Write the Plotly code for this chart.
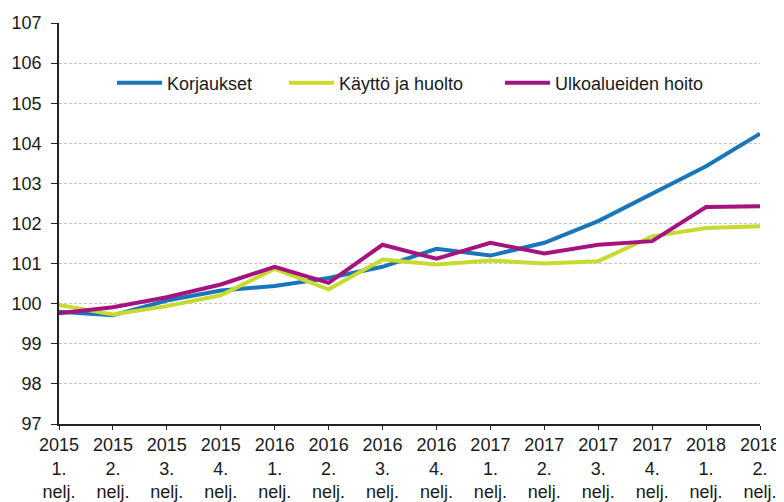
import plotly.graph_objects as go

quarters = ["2015<br>1.<br>nelj.", "2015<br>2.<br>nelj.", "2015<br>3.<br>nelj.", "2015<br>4.<br>nelj.",
            "2016<br>1.<br>nelj.", "2016<br>2.<br>nelj.", "2016<br>3.<br>nelj.", "2016<br>4.<br>nelj.",
            "2017<br>1.<br>nelj.", "2017<br>2.<br>nelj.", "2017<br>3.<br>nelj.", "2017<br>4.<br>nelj.",
            "2018<br>1.<br>nelj.", "2018<br>2.<br>nelj."]

korjaukset = [99.80, 99.71, 100.08, 100.33, 100.44, 100.64, 100.92, 101.37,
              101.20, 101.52, 102.06, 102.75, 103.43, 104.24]
kaytto = [99.97, 99.73, 99.94, 100.21, 100.87, 100.36, 101.10, 100.98,
          101.08, 101.00, 101.06, 101.68, 101.89, 101.93]
ulkoalueet = [99.76, 99.91, 100.16, 100.48, 100.92, 100.52, 101.47, 101.12,
              101.52, 101.25, 101.47, 101.56, 102.41, 102.43]

y_ticks = list(range(97, 108))

names = ["Korjaukset", "Käyttö ja huolto", "Ulkoalueiden hoito"]
colors = ["#1B75BB", "#C6DA30", "#A5137F"]
legend_ids = ["legend", "legend2", "legend3"]
legend_x = [0.0756, 0.321, 0.629]
x = list(range(len(quarters)))

font = dict(family="Liberation Sans, Arial, sans-serif", size=18, color="#1a1a1a")

fig = go.Figure()
for name, vals, col, lid in zip(names, [korjaukset, kaytto, ulkoalueet], colors, legend_ids):
    fig.add_trace(go.Scatter(x=x, y=vals, mode="lines", name=name, legend=lid,
                             line=dict(color=col, width=4), cliponaxis=False))

leg_common = dict(orientation="h", y=0.85, xanchor="left", yanchor="middle",
                  bgcolor="rgba(0,0,0,0)", font=font, itemwidth=45)

fig.update_layout(
    width=776, height=494,
    margin=dict(l=51, r=24, t=15, b=78, autoexpand=False),
    paper_bgcolor="white", plot_bgcolor="white",
    font=font,
    showlegend=True,
    legend=dict(x=legend_x[0], **leg_common),
    legend2=dict(x=legend_x[1], **leg_common),
    legend3=dict(x=legend_x[2], **leg_common),
    xaxis=dict(range=[0, 13], tickvals=x, ticktext=quarters, showgrid=False,
               showline=True, linecolor="#222", linewidth=1.5, automargin=False,
               ticks="outside", ticklen=4, tickcolor="#222", zeroline=False),
    yaxis=dict(range=[97, 107], tickvals=y_ticks, showgrid=True, gridcolor="#c4c4c4",
               griddash="3px,2px", gridwidth=1, automargin=False,
               showline=True, linecolor="#222", linewidth=1.5,
               ticks="outside", ticklen=6, tickcolor="#222", zeroline=False,
               ticklabelstandoff=6),
)

fig.write_html("out.html")
